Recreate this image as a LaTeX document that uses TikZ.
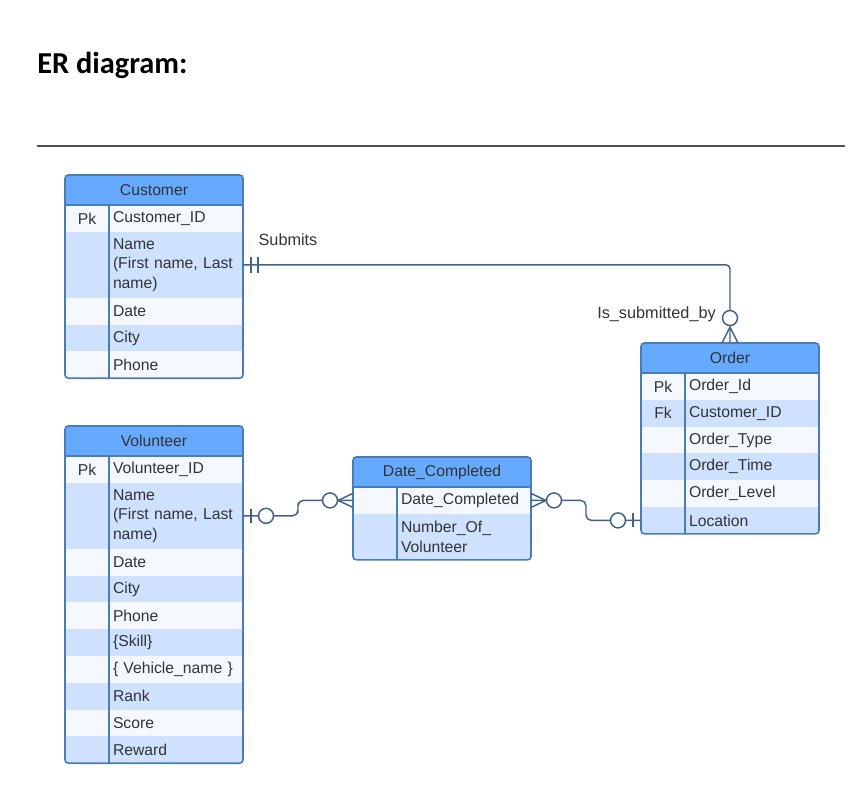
\documentclass[tikz,border=0pt]{standalone}
\usepackage{fontspec}
\setmainfont{Liberation Sans}
\newfontfamily\headfont{Carlito}
\usetikzlibrary{positioning,calc}
\definecolor{hdrblue}{RGB}{102,170,255}
\definecolor{rowblue}{RGB}{206,226,255}
\definecolor{rowpale}{RGB}{245,249,255}
\definecolor{frameblue}{RGB}{74,124,182}
\definecolor{linkblue}{RGB}{64,98,138}
\definecolor{txtgray}{RGB}{51,51,51}
\definecolor{rulegray}{RGB}{80,80,80}
\tikzset{cell/.style={rectangle, draw=none, inner xsep=3pt, inner ysep=0pt,
    outer sep=0pt, text=txtgray, font=\fontsize{11.8}{14.6}\selectfont},
  headcell/.style={cell, anchor=north west, fill=hdrblue,
    minimum width=133.5pt, minimum height=22.5pt},
  keycell/.style={cell, minimum width=33pt, minimum height=20.1pt},
  fieldcell/.style={cell, minimum width=100.5pt, text width=94.5pt,
    align=left, minimum height=20.1pt},
  tall/.style={minimum height=49.5pt},
  rowa/.style={fill=rowpale},
  rowb/.style={fill=rowblue},
  tblframe/.style={draw=frameblue, line width=1.2pt, rounded corners=2.5pt},
  tblline/.style={draw=frameblue, line width=1.2pt},
  link/.style={draw=linkblue, line width=1.1pt},
  ering/.style={circle, draw=linkblue, line width=1.1pt, fill=white,
    minimum size=11.25pt, inner sep=0pt},
  relname/.style={text=txtgray, font=\fontsize{12.2}{14}\selectfont,
    inner sep=0pt}
}
\begin{document}
\begin{tikzpicture}[x=0.75pt, y=-0.75pt]
    \useasboundingbox (0,0) rectangle (863,790);
    \node[anchor=base west, inner sep=0pt,
    font=\headfont\bfseries\fontsize{22.8}{27}\selectfont] (title)
    at (37,73) {ER diagram:};
    \coordinate (ruleL) at (37,146);
    \coordinate (ruleR) at (845,146);
    \draw[rulegray, line width=1pt] (ruleL) -- (ruleR);

    % Customer
    \node[headcell] (cuHead) at (65,175) {Customer};
    \node[keycell, rowa, anchor=north west] (cuK1) at (cuHead.south west) {Pk};
    \node[fieldcell, rowa, right=0pt of cuK1] (cuF1) {Customer\_ID};
    \node[keycell, rowb, tall, below=0pt of cuK1] (cuK2) {};
    \node[fieldcell, rowb, tall, right=0pt of cuK2] (cuF2)
    {Name\\(First name, Last name)};
    \node[keycell, rowa, below=0pt of cuK2] (cuK3) {};
    \node[fieldcell, rowa, right=0pt of cuK3] (cuF3) {Date};
    \node[keycell, rowb, below=0pt of cuK3] (cuK4) {};
    \node[fieldcell, rowb, right=0pt of cuK4] (cuF4) {City};
    \node[keycell, rowa, below=0pt of cuK4] (cuK5) {};
    \node[fieldcell, rowa, right=0pt of cuK5] (cuF5) {Phone};
    \draw[tblline] (cuHead.south west) -- (cuHead.south east);
    \draw[tblline] (cuK1.north east) -- (cuK5.south east);
    \draw[tblframe] (cuHead.north west) rectangle (cuF5.south east);

    % Volunteer
    \node[headcell] (voHead) at (65,426) {Volunteer};
    \node[keycell, rowa, anchor=north west] (voK1) at (voHead.south west) {Pk};
    \node[fieldcell, rowa, right=0pt of voK1] (voF1) {Volunteer\_ID};
    \node[keycell, rowb, tall, below=0pt of voK1] (voK2) {};
    \node[fieldcell, rowb, tall, right=0pt of voK2] (voF2)
    {Name\\(First name, Last name)};
    \node[keycell, rowa, below=0pt of voK2] (voK3) {};
    \node[fieldcell, rowa, right=0pt of voK3] (voF3) {Date};
    \node[keycell, rowb, below=0pt of voK3] (voK4) {};
    \node[fieldcell, rowb, right=0pt of voK4] (voF4) {City};
    \node[keycell, rowa, below=0pt of voK4] (voK5) {};
    \node[fieldcell, rowa, right=0pt of voK5] (voF5) {Phone};
    \node[keycell, rowb, below=0pt of voK5] (voK6) {};
    \node[fieldcell, rowb, right=0pt of voK6] (voF6) {\{Skill\}};
    \node[keycell, rowa, below=0pt of voK6] (voK7) {};
    \node[fieldcell, rowa, right=0pt of voK7] (voF7) {\{ Vehicle\_name \}};
    \node[keycell, rowb, below=0pt of voK7] (voK8) {};
    \node[fieldcell, rowb, right=0pt of voK8] (voF8) {Rank};
    \node[keycell, rowa, below=0pt of voK8] (voK9) {};
    \node[fieldcell, rowa, right=0pt of voK9] (voF9) {Score};
    \node[keycell, rowb, below=0pt of voK9] (voK10) {};
    \node[fieldcell, rowb, right=0pt of voK10] (voF10) {Reward};
    \draw[tblline] (voHead.south west) -- (voHead.south east);
    \draw[tblline] (voK1.north east) -- (voK10.south east);
    \draw[tblframe] (voHead.north west) rectangle (voF10.south east);

    % Order
    \node[headcell] (orHead) at (641,343) {Order};
    \node[keycell, rowa, anchor=north west] (orK1) at (orHead.south west) {Pk};
    \node[fieldcell, rowa, right=0pt of orK1] (orF1) {Order\_Id};
    \node[keycell, rowb, below=0pt of orK1] (orK2) {Fk};
    \node[fieldcell, rowb, right=0pt of orK2] (orF2) {Customer\_ID};
    \node[keycell, rowa, below=0pt of orK2] (orK3) {};
    \node[fieldcell, rowa, right=0pt of orK3] (orF3) {Order\_Type};
    \node[keycell, rowb, below=0pt of orK3] (orK4) {};
    \node[fieldcell, rowb, right=0pt of orK4] (orF4) {Order\_Time};
    \node[keycell, rowa, below=0pt of orK4] (orK5) {};
    \node[fieldcell, rowa, right=0pt of orK5] (orF5) {Order\_Level};
    \node[keycell, rowb, below=0pt of orK5] (orK6) {};
    \node[fieldcell, rowb, right=0pt of orK6] (orF6) {Location};
    \draw[tblline] (orHead.south west) -- (orHead.south east);
    \draw[tblline] (orK1.north east) -- (orK6.south east);
    \draw[tblframe] (orHead.north west) rectangle (orF6.south east);

    % Date_Completed
    \node[headcell] (dcHead) at (353,457) {Date\_Completed};
    \node[keycell, rowa, anchor=north west] (dcK1) at (dcHead.south west) {};
    \node[fieldcell, rowa, right=0pt of dcK1] (dcF1) {Date\_Completed};
    \node[keycell, rowb, minimum height=34.5pt, below=0pt of dcK1] (dcK2) {};
    \node[fieldcell, rowb, minimum height=34.5pt, right=0pt of dcK2] (dcF2)
    {Number\_Of\_\\Volunteer};
    \draw[tblline] (dcHead.south west) -- (dcHead.south east);
    \draw[tblline] (dcK1.north east) -- (dcK2.south east);
    \draw[tblframe] (dcHead.north west) rectangle (dcF2.south east);

    % Submits / Is_submitted_by
    \draw[link, rounded corners=3pt] (cuF2.east) -| (orHead.north);
    \draw[link] ($(cuF2.east)+(8,-8)$) -- ($(cuF2.east)+(8,8)$);
    \draw[link] ($(cuF2.east)+(15,-8)$) -- ($(cuF2.east)+(15,8)$);
    \draw[link] ($(orHead.north)+(0,-16)$) -- ($(orHead.north)+(-8,0)$);
    \draw[link] ($(orHead.north)+(0,-16)$) -- ($(orHead.north)+(8,0)$);
    \node[ering] (subO) at ($(orHead.north)+(0,-25)$) {};
    \node[relname] (subLbl) at (288,240) {Submits};
    \node[relname, anchor=east] (isbLbl) at (716,314) {Is\_submitted\_by};

    % Volunteer -- Date_Completed
    \coordinate (vdMid) at ($(voF2.east)!0.5!(dcK1.west)$);
    \draw[link, rounded corners=4pt] (voF2.east) -| (vdMid) |- (dcK1.west);
    \draw[link] ($(voF2.east)+(8,-7)$) -- ($(voF2.east)+(8,7)$);
    \draw[link] ($(dcK1.west)+(-15,0)$) -- ($(dcK1.west)+(0,-7)$);
    \draw[link] ($(dcK1.west)+(-15,0)$) -- ($(dcK1.west)+(0,7)$);
    \node[ering] (voO) at ($(voF2.east)+(23,0)$) {};
    \node[ering] (dcOl) at ($(dcK1.west)+(-23,0)$) {};

    % Date_Completed -- Order
    \coordinate (doMid) at ($(dcF1.east)!0.5!(orK6.west)$);
    \draw[link, rounded corners=4pt] (dcF1.east) -| (doMid) |- (orK6.west);
    \draw[link] ($(dcF1.east)+(15,0)$) -- ($(dcF1.east)+(0,-7)$);
    \draw[link] ($(dcF1.east)+(15,0)$) -- ($(dcF1.east)+(0,7)$);
    \draw[link] ($(orK6.west)+(-8,-7)$) -- ($(orK6.west)+(-8,7)$);
    \node[ering] (dcOr) at ($(dcF1.east)+(23,0)$) {};
    \node[ering] (orO) at ($(orK6.west)+(-23,0)$) {};
\end{tikzpicture}
\end{document}
